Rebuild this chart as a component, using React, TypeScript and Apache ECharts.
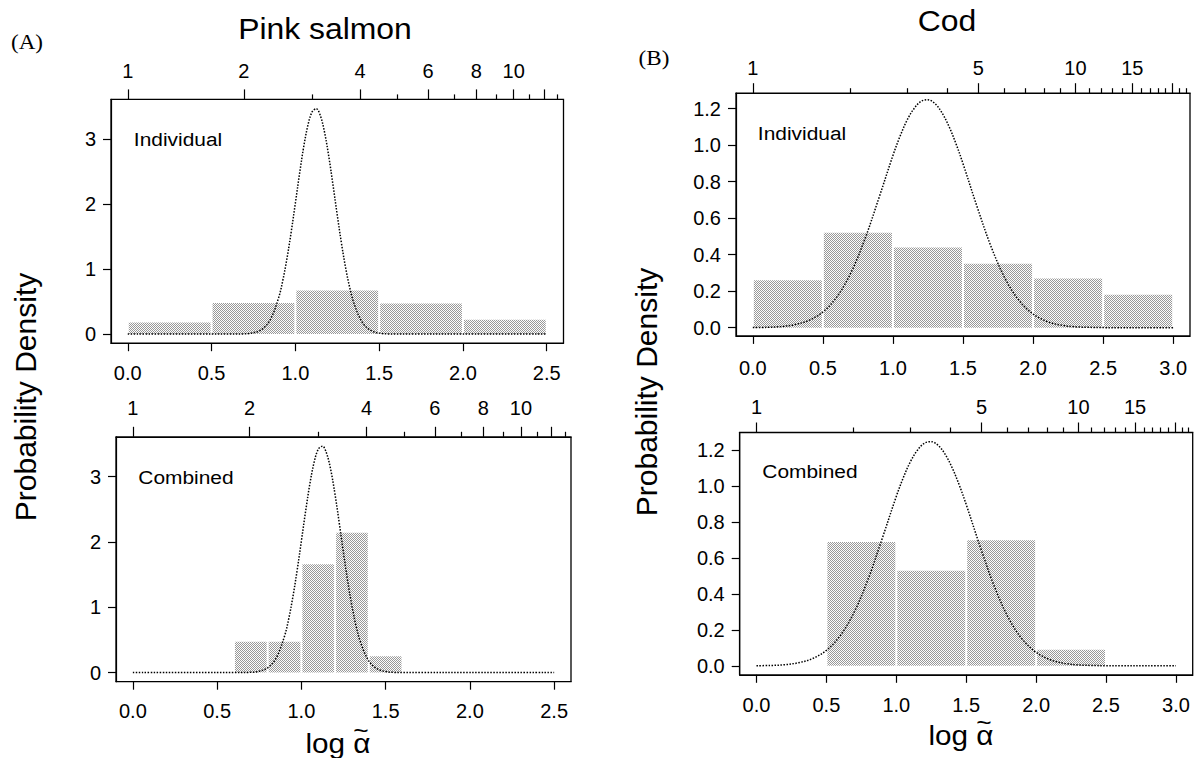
import React, { useEffect, useRef } from "react";
import * as echarts from "echarts";

// ---------- data ----------
// Pink salmon
const pinkXTicks = [0, 0.5, 1.0, 1.5, 2.0, 2.5];
const pinkYTicks = [0, 1, 2, 3];
const pinkTopMajor = [1, 2, 4, 6, 8, 10, 12];
const pinkTopLabels = [1, 2, 4, 6, 8, 10];
const pinkTopMinor = [3, 5, 7, 9, 11, 13];

const pinkIndEdges = [0, 0.5, 1.0, 1.5, 2.0, 2.5];
const pinkIndDensity = [0.18, 0.48, 0.67, 0.47, 0.22];
const pinkCombEdges = [0.6, 0.8, 1.0, 1.2, 1.4, 1.6];
const pinkCombDensity = [0.47, 0.47, 1.66, 2.14, 0.25];

const pinkCurveX = [0, 0.5, 0.6, 0.7, 0.75, 0.8, 0.85, 0.9, 0.925, 0.95, 0.975, 1.0, 1.025, 1.05, 1.075, 1.1, 1.125, 1.15, 1.175, 1.2, 1.225, 1.25, 1.275, 1.3, 1.325, 1.35, 1.4, 1.45, 1.5, 1.55, 1.6, 1.7, 2.0, 2.5];
const pinkCurveY = [0, 0, 0.0001, 0.004, 0.02, 0.072, 0.22, 0.557, 0.824, 1.164, 1.567, 2.013, 2.467, 2.883, 3.214, 3.418, 3.467, 3.354, 3.095, 2.724, 2.287, 1.831, 1.399, 1.019, 0.709, 0.47, 0.179, 0.057, 0.015, 0.003, 0.0005, 0, 0, 0];

// Cod
const codXTicks = [0, 0.5, 1.0, 1.5, 2.0, 2.5, 3.0];
const codYTicks = [0, 0.2, 0.4, 0.6, 0.8, 1.0, 1.2];
const codTopMajor = [1, 5, 10, 15, 20];
const codTopLabels = [1, 5, 10, 15];
const codTopMinor = [2, 3, 4, 6, 7, 8, 9, 11, 12, 13, 14, 16, 17, 18, 19, 21, 22];

const codIndEdges = [0, 0.5, 1.0, 1.5, 2.0, 2.5, 3.0];
const codIndDensity = [0.26, 0.52, 0.44, 0.35, 0.27, 0.18];
const codCombEdges = [0.5, 1.0, 1.5, 2.0, 2.5];
const codCombDensity = [0.69, 0.53, 0.7, 0.09];

const codCurveX = [0, 0.1, 0.2, 0.3, 0.4, 0.5, 0.6, 0.7, 0.8, 0.9, 1.0, 1.05, 1.1, 1.15, 1.2, 1.25, 1.3, 1.35, 1.4, 1.45, 1.5, 1.6, 1.7, 1.8, 1.9, 2.0, 2.1, 2.2, 2.3, 2.4, 2.5, 2.6, 2.8, 3.0];
const codCurveY = [0.0007, 0.002, 0.006, 0.017, 0.04, 0.086, 0.169, 0.301, 0.486, 0.711, 0.944, 1.048, 1.136, 1.2, 1.24, 1.249, 1.228, 1.178, 1.103, 1.008, 0.899, 0.664, 0.445, 0.27, 0.149, 0.075, 0.034, 0.014, 0.005, 0.002, 0.0005, 0, 0, 0];

const SANS = '"Liberation Sans", Arial, Helvetica, sans-serif';
const SERIF = '"Liberation Serif", "Times New Roman", serif';

export default function App() {
  const ref = useRef<HTMLDivElement>(null);

  useEffect(() => {
    const chart = echarts.init(ref.current!, null, { renderer: "svg" });

    const cv = document.createElement("canvas");
    cv.width = 2;
    cv.height = 2;
    const ctx = cv.getContext("2d")!;
    ctx.fillStyle = "#fdfdfd";
    ctx.fillRect(0, 0, 2, 2);
    ctx.fillStyle = "#989898";
    ctx.fillRect(0, 0, 1, 1);
    ctx.fillRect(1, 1, 1, 1);
    const pattern: any = { image: cv.toDataURL(), repeat: "repeat", imageWidth: 2, imageHeight: 2 };

    const fmt1 = (v: number) => v.toFixed(1);
    const fmt0 = (v: number) => String(Math.round(v));

    const panels = [
      {
        rect: { left: 111, top: 99.4, width: 452.5, height: 243.8 },
        x: [-0.1, 2.6], y: [-0.14, 3.61], xTicks: pinkXTicks, yTicks: pinkYTicks, yFmt: fmt0,
        topMajor: pinkTopMajor, topLabels: pinkTopLabels, topMinor: pinkTopMinor,
        edges: pinkIndEdges, dens: pinkIndDensity, cx: pinkCurveX, cy: pinkCurveY,
        topMargin: 18, botMargin: 20,
      },
      {
        rect: { left: 116, top: 436.8, width: 455, height: 244.9 },
        x: [-0.1, 2.6], y: [-0.14, 3.61], xTicks: pinkXTicks, yTicks: pinkYTicks, yFmt: fmt0,
        topMajor: pinkTopMajor, topLabels: pinkTopLabels, topMinor: pinkTopMinor,
        edges: pinkCombEdges, dens: pinkCombDensity, cx: pinkCurveX, cy: pinkCurveY,
        topMargin: 19, botMargin: 19,
      },
      {
        rect: { left: 736, top: 93.2, width: 454, height: 242.7 },
        x: [-0.12, 3.12], y: [-0.045, 1.285], xTicks: codXTicks, yTicks: codYTicks, yFmt: fmt1,
        topMajor: codTopMajor, topLabels: codTopLabels, topMinor: codTopMinor,
        edges: codIndEdges, dens: codIndDensity, cx: codCurveX, cy: codCurveY,
        topMargin: 15, botMargin: 22,
      },
      {
        rect: { left: 739.7, top: 432.5, width: 453, height: 242.3 },
        x: [-0.12, 3.12], y: [-0.05, 1.3], xTicks: codXTicks, yTicks: codYTicks, yFmt: fmt1,
        topMajor: codTopMajor, topLabels: codTopLabels, topMinor: codTopMinor,
        edges: codCombEdges, dens: codCombDensity, cx: codCurveX, cy: codCurveY,
        topMargin: 16, botMargin: 20,
      },
    ];

    const grid: any[] = [];
    const xAxis: any[] = [];
    const yAxis: any[] = [];
    const series: any[] = [];
    const black = { color: "#000", width: 1.2 };
    const labelStyle = { color: "#000", fontSize: 20, fontFamily: SANS };

    panels.forEach((p, i) => {
      const g = 2 * i;
      grid.push({ ...p.rect, show: true, borderColor: "#000", borderWidth: 1.3, backgroundColor: "transparent", containLabel: false });
      grid.push({ ...p.rect, show: false, containLabel: false });

      xAxis.push({
        type: "value", gridIndex: g, position: "bottom", min: p.x[0], max: p.x[1],
        axisLine: { show: true, onZero: false, lineStyle: black },
        axisTick: { show: true, length: 8, customValues: p.xTicks, lineStyle: black },
        axisLabel: { show: true, customValues: p.xTicks, formatter: fmt1, margin: p.botMargin, ...labelStyle },
        splitLine: { show: false },
      });
      xAxis.push({
        type: "value", gridIndex: g, position: "top", min: p.x[0], max: p.x[1],
        axisLine: { show: true, onZero: false, lineStyle: black },
        axisTick: { show: true, length: 10, customValues: p.topMajor.map((a) => Math.log(a)), lineStyle: black },
        axisLabel: {
          show: true, customValues: p.topLabels.map((a) => Math.log(a)),
          formatter: (v: number) => String(Math.round(Math.exp(v))), margin: p.topMargin, ...labelStyle,
        },
        splitLine: { show: false },
      });
      xAxis.push({
        type: "value", gridIndex: g + 1, position: "top", min: p.x[0], max: p.x[1],
        axisLine: { show: false, onZero: false },
        axisTick: { show: true, length: 5, customValues: p.topMinor.map((a) => Math.log(a)), lineStyle: black },
        axisLabel: { show: false },
        splitLine: { show: false },
      });
      yAxis.push({
        type: "value", gridIndex: g, position: "left", min: p.y[0], max: p.y[1],
        axisLine: { show: true, onZero: false, lineStyle: black },
        axisTick: { show: true, length: 8, customValues: p.yTicks, lineStyle: black },
        axisLabel: { show: true, customValues: p.yTicks, formatter: p.yFmt, margin: 15, ...labelStyle },
        splitLine: { show: false },
      });
      yAxis.push({ type: "value", gridIndex: g + 1, min: p.y[0], max: p.y[1], show: false });

      const xi = 3 * i;
      const yi = 2 * i;
      series.push({
        type: "custom",
        xAxisIndex: xi,
        yAxisIndex: yi,
        z: 1,
        data: p.dens.map((h, k) => [p.edges[k], p.edges[k + 1], h]),
        encode: { x: [0, 1], y: 2 },
        renderItem: (params: any, api: any) => {
          const a = api.coord([api.value(0), api.value(2)]);
          const b = api.coord([api.value(1), 0]);
          return {
            type: "rect",
            shape: { x: a[0] + 1, y: a[1], width: b[0] - a[0] - 2, height: b[1] - a[1] },
            style: { fill: pattern, stroke: null },
          };
        },
      });
      series.push({
        type: "line",
        xAxisIndex: xi,
        yAxisIndex: yi,
        z: 3,
        data: p.cx.map((x, k) => [x, p.cy[k]]),
        symbol: "none",
        showSymbol: false,
        smooth: 0.35,
        lineStyle: { color: "#000", width: 1.5, type: "dotted" },
      });
    });

    const txt = (text: string, x: number, y: number, size: number, extra: any = {}) => ({
      type: "text",
      x,
      y,
      scaleX: extra.scaleX ?? 1.1,
      rotation: extra.rotation ?? 0,
      style: {
        text,
        fill: "#000",
        font: `${extra.weight ?? "normal"} ${size}px ${extra.family ?? SANS}`,
        textAlign: extra.align ?? "center",
        textVerticalAlign: "middle",
      },
      z: 10,
    });

    // x-axis titles: "log α" with a tilde drawn over the alpha
    const logAlpha = (cx: number, cy: number) => [
      txt("log \u03B1", cx, cy, 27),
      txt("~", cx + 23, cy - 13, 24),
    ];

    chart.setOption({
      animation: false,
      backgroundColor: "#fff",
      grid,
      xAxis,
      yAxis,
      series,
      graphic: [
        txt("Pink salmon", 325, 29, 29),
        txt("Cod", 947, 21, 29),
        txt("(A)", 27, 42, 22, { family: SERIF, scaleX: 1.05 }),
        txt("(B)", 654, 58, 22, { family: SERIF, scaleX: 1.05 }),
        txt("Probability Density", 25, 397, 30, { rotation: Math.PI / 2, scaleX: 1 }),
        txt("Probability Density", 646, 392, 30, { rotation: Math.PI / 2, scaleX: 1 }),
        txt("Individual", 178, 139, 19),
        txt("Individual", 802, 133, 19),
        txt("Combined", 186, 477, 19),
        txt("Combined", 810, 471, 19),
        ...logAlpha(338, 743),
        ...logAlpha(961, 735),
      ],
    });

    return () => chart.dispose();
  }, []);

  return (
    <div
      ref={ref}
      style={{ position: "fixed", left: 0, top: 0, width: 1194, height: 758, background: "#fff" }}
    />
  );
}
